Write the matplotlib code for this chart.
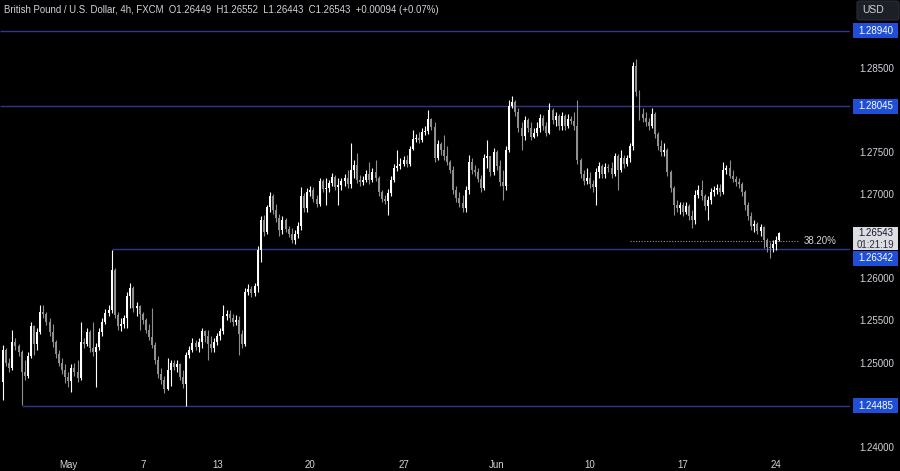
import matplotlib
matplotlib.use("Agg")
import matplotlib.pyplot as plt
import matplotlib.transforms as mtransforms
from matplotlib.patches import Rectangle, FancyBboxPatch
import numpy as np

# ---------------- data (GBP/USD, 4h candles) ----------------
open0 = 1.2477
close = [
    1.2515, 1.2500, 1.2493, 1.2524, 1.2520, 1.2512, 1.2489, 1.2484, 1.2508, 1.2543,
    1.2522, 1.2536, 1.2560, 1.2558, 1.2548, 1.2536, 1.2524, 1.2510, 1.2500, 1.2491,
    1.2483, 1.2478, 1.2493, 1.2489, 1.2482, 1.2524, 1.2522, 1.2536, 1.2517, 1.2512,
    1.2518, 1.2536, 1.2548, 1.2559, 1.2562, 1.2610, 1.2556, 1.2543, 1.2546, 1.2553,
    1.2579, 1.2588, 1.2565, 1.2567, 1.2558, 1.2550, 1.2539, 1.2530, 1.2521, 1.2503,
    1.2486, 1.2479, 1.2468, 1.2491, 1.2499, 1.2495, 1.2498, 1.2483, 1.2474, 1.2509,
    1.2515, 1.2523, 1.2518, 1.2524, 1.2537, 1.2532, 1.2522, 1.2517, 1.2524, 1.2532,
    1.2537, 1.2555, 1.2558, 1.2553, 1.2548, 1.2550, 1.2534, 1.2522, 1.2584, 1.2587,
    1.2583, 1.2591, 1.2634, 1.2669, 1.2655, 1.2685, 1.2698, 1.2681, 1.2672, 1.2657,
    1.2669, 1.2659, 1.2653, 1.2645, 1.2653, 1.2662, 1.2698, 1.2683, 1.2702, 1.2705,
    1.2694, 1.2688, 1.2716, 1.2706, 1.2707, 1.2713, 1.2720, 1.2708, 1.2711, 1.2716,
    1.2719, 1.2712, 1.2729, 1.2734, 1.2717, 1.2714, 1.2717, 1.2724, 1.2717, 1.2726,
    1.2719, 1.2702, 1.2694, 1.2692, 1.2701, 1.2717, 1.2731, 1.2733, 1.2736, 1.2740,
    1.2736, 1.2754, 1.2765, 1.2767, 1.2764, 1.2774, 1.2775, 1.2789, 1.2780, 1.2743,
    1.2759, 1.2752, 1.2745, 1.2738, 1.2729, 1.2705, 1.2695, 1.2689, 1.2683, 1.2705,
    1.2738, 1.2729, 1.2726, 1.2718, 1.2707, 1.2743, 1.2745, 1.2726, 1.2750, 1.2733,
    1.2714, 1.2710, 1.2752, 1.2805, 1.2809, 1.2797, 1.2778, 1.2769, 1.2788, 1.2778,
    1.2768, 1.2772, 1.2778, 1.2790, 1.2781, 1.2772, 1.2800, 1.2788, 1.2793, 1.2781,
    1.2793, 1.2781, 1.2789, 1.2787, 1.2781, 1.2740, 1.2724, 1.2716, 1.2719, 1.2712,
    1.2708, 1.2726, 1.2733, 1.2724, 1.2732, 1.2731, 1.2724, 1.2745, 1.2729, 1.2743,
    1.2736, 1.2743, 1.2757, 1.2852, 1.2821, 1.2795, 1.2790, 1.2786, 1.2781, 1.2795,
    1.2771, 1.2757, 1.2750, 1.2752, 1.2726, 1.2707, 1.2687, 1.2683, 1.2687, 1.2679,
    1.2686, 1.2674, 1.2669, 1.2699, 1.2705, 1.2698, 1.2686, 1.2693, 1.2702, 1.2705,
    1.2707, 1.2702, 1.2729, 1.2731, 1.2722, 1.2718, 1.2714, 1.2712, 1.2702, 1.2687,
    1.2674, 1.2662, 1.2665, 1.2656, 1.2661, 1.2645, 1.2637, 1.2636, 1.2641, 1.26449,
    1.26543,
]
high = [
    1.2521, 1.2517, 1.2505, 1.2539, 1.2529, 1.2522, 1.2515, 1.2503, 1.2512, 1.2548,
    1.2545, 1.2541, 1.2568, 1.2568, 1.2560, 1.2553, 1.2546, 1.2527, 1.2515, 1.2505,
    1.2498, 1.2489, 1.2498, 1.2500, 1.2503, 1.2548, 1.2529, 1.2541, 1.2539, 1.2548,
    1.2523, 1.2541, 1.2553, 1.2564, 1.2568, 1.2634, 1.2612, 1.2560, 1.2553, 1.2556,
    1.2584, 1.2594, 1.2591, 1.2572, 1.2568, 1.2560, 1.2553, 1.2546, 1.2565, 1.2524,
    1.2508, 1.2493, 1.2484, 1.2505, 1.2503, 1.2503, 1.2503, 1.2500, 1.2491, 1.2512,
    1.2520, 1.2529, 1.2527, 1.2529, 1.2541, 1.2539, 1.2539, 1.2532, 1.2529, 1.2535,
    1.2541, 1.2568, 1.2562, 1.2562, 1.2558, 1.2556, 1.2555, 1.2539, 1.2588, 1.2593,
    1.2591, 1.2594, 1.2638, 1.2674, 1.2675, 1.2687, 1.2702, 1.2700, 1.2688, 1.2676,
    1.2674, 1.2672, 1.2662, 1.2660, 1.2657, 1.2667, 1.2708, 1.2701, 1.2707, 1.2710,
    1.2708, 1.2699, 1.2719, 1.2718, 1.2719, 1.2717, 1.2725, 1.2723, 1.2719, 1.2719,
    1.2724, 1.2729, 1.2761, 1.2740, 1.2749, 1.2723, 1.2721, 1.2729, 1.2738, 1.2731,
    1.2740, 1.2721, 1.2705, 1.2699, 1.2706, 1.2721, 1.2736, 1.2752, 1.2743, 1.2745,
    1.2746, 1.2757, 1.2776, 1.2771, 1.2774, 1.2778, 1.2781, 1.2800, 1.2790, 1.2786,
    1.2764, 1.2762, 1.2770, 1.2757, 1.2740, 1.2733, 1.2710, 1.2702, 1.2699, 1.2710,
    1.2746, 1.2743, 1.2734, 1.2731, 1.2723, 1.2748, 1.2764, 1.2745, 1.2755, 1.2752,
    1.2740, 1.2729, 1.2757, 1.2812, 1.2816, 1.2812, 1.2802, 1.2786, 1.2793, 1.2790,
    1.2786, 1.2778, 1.2786, 1.2795, 1.2794, 1.2786, 1.2808, 1.2802, 1.2797, 1.2795,
    1.2797, 1.2795, 1.2795, 1.2793, 1.2797, 1.2812, 1.2743, 1.2729, 1.2731, 1.2726,
    1.2717, 1.2731, 1.2738, 1.2736, 1.2737, 1.2736, 1.2738, 1.2749, 1.2748, 1.2752,
    1.2746, 1.2746, 1.2761, 1.2857, 1.2860, 1.2824, 1.2802, 1.2797, 1.2790, 1.2802,
    1.2797, 1.2774, 1.2764, 1.2761, 1.2755, 1.2729, 1.2710, 1.2693, 1.2691, 1.2691,
    1.2691, 1.2688, 1.2681, 1.2705, 1.2711, 1.2717, 1.2700, 1.2698, 1.2707, 1.2710,
    1.2712, 1.2712, 1.2738, 1.2734, 1.2740, 1.2729, 1.2721, 1.2719, 1.2714, 1.2705,
    1.2691, 1.2679, 1.2669, 1.2667, 1.2665, 1.2662, 1.2648, 1.2643, 1.2645, 1.2650,
    1.26552,
]
low = [
    1.2455, 1.2496, 1.2489, 1.2491, 1.2515, 1.2508, 1.2449, 1.2479, 1.2482, 1.2505,
    1.2509, 1.2515, 1.2534, 1.2553, 1.2545, 1.2532, 1.2518, 1.2505, 1.2496, 1.2486,
    1.2476, 1.2471, 1.2465, 1.2484, 1.2477, 1.2479, 1.2517, 1.2520, 1.2512, 1.2508,
    1.2471, 1.2515, 1.2532, 1.2546, 1.2555, 1.2559, 1.2553, 1.2539, 1.2537, 1.2541,
    1.2541, 1.2565, 1.2560, 1.2555, 1.2539, 1.2546, 1.2535, 1.2527, 1.2517, 1.2498,
    1.2482, 1.2474, 1.2464, 1.2467, 1.2472, 1.2491, 1.2489, 1.2479, 1.2470, 1.24485,
    1.2505, 1.2512, 1.2515, 1.2512, 1.2517, 1.2524, 1.2503, 1.2512, 1.2512, 1.2521,
    1.2527, 1.2534, 1.2550, 1.2548, 1.2543, 1.2545, 1.2509, 1.2517, 1.2520, 1.2580,
    1.2578, 1.2579, 1.2584, 1.2619, 1.2650, 1.2653, 1.2679, 1.2676, 1.2667, 1.2650,
    1.2653, 1.2655, 1.2649, 1.2642, 1.2641, 1.2648, 1.2657, 1.2679, 1.2679, 1.2698,
    1.2691, 1.2685, 1.2686, 1.2702, 1.2687, 1.2702, 1.2710, 1.2705, 1.2687, 1.2705,
    1.2710, 1.2707, 1.2707, 1.2719, 1.2713, 1.2710, 1.2711, 1.2714, 1.2712, 1.2714,
    1.2716, 1.2698, 1.2691, 1.2688, 1.2675, 1.2698, 1.2714, 1.2727, 1.2730, 1.2733,
    1.2732, 1.2733, 1.2752, 1.2762, 1.2761, 1.2762, 1.2770, 1.2771, 1.2776, 1.2738,
    1.2740, 1.2746, 1.2740, 1.2734, 1.2725, 1.2700, 1.2691, 1.2685, 1.2679, 1.2679,
    1.2700, 1.2724, 1.2721, 1.2714, 1.2702, 1.2705, 1.2731, 1.2721, 1.2723, 1.2729,
    1.2710, 1.2693, 1.2705, 1.2750, 1.2802, 1.2793, 1.2774, 1.2752, 1.2764, 1.2774,
    1.2764, 1.2767, 1.2769, 1.2774, 1.2776, 1.2769, 1.2771, 1.2783, 1.2781, 1.2776,
    1.2776, 1.2776, 1.2778, 1.2783, 1.2776, 1.2736, 1.2719, 1.2711, 1.2712, 1.2707,
    1.2702, 1.2687, 1.2719, 1.2719, 1.2719, 1.2726, 1.2719, 1.2721, 1.2705, 1.2726,
    1.2731, 1.2733, 1.2738, 1.2752, 1.2816, 1.2788, 1.2786, 1.2781, 1.2776, 1.2778,
    1.2767, 1.2752, 1.2745, 1.2745, 1.2721, 1.2702, 1.2675, 1.2679, 1.2676, 1.2674,
    1.2676, 1.2669, 1.2660, 1.2664, 1.2695, 1.2693, 1.2681, 1.2669, 1.2688, 1.2698,
    1.2700, 1.2698, 1.2700, 1.2724, 1.2719, 1.2714, 1.2710, 1.2707, 1.2698, 1.2681,
    1.2669, 1.2657, 1.2655, 1.2653, 1.2650, 1.2636, 1.2631, 1.2624, 1.2631, 1.2634,
    1.26443,
]

tick_idx = [21, 45, 69, 99, 129, 159, 189, 219, 249]
tick_labels = ["May", "7", "13", "20", "27", "Jun", "10", "17", "24"]
price_ticks = [1.24000, 1.25000, 1.25500, 1.26000, 1.27000, 1.27500, 1.28500]

level_values = [1.28940, 1.28045, 1.26342, 1.24485]
level_start = [-1, -1, 35, 6]          # candle index where each horizontal ray starts
fib_value = 1.26447
fib_label = "38.20%"
fib_start, fib_end = 202, 256
countdown = "01:21:19"

# ---------------- styling ----------------
plt.rcParams["font.family"] = ["Liberation Sans", "DejaVu Sans"]
BG = "#000000"
UP = "#ffffff"
DOWN = "#8f8f8f"
LEVEL = "#30368f"
TXT = "#d1d4dc"
BLUE = "#1f4fd6"

W, H = 900, 471
fig = plt.figure(figsize=(W / 100, H / 100), dpi=100, facecolor=BG)
ax = fig.add_axes([0, 18 / H, 850 / W, 453 / H])
ax.set_facecolor(BG)

o = np.array([open0] + close[:-1])
c = np.array(close)
hi = np.array(high)
lo = np.array(low)
x = np.arange(len(c))
up = c >= o
cols = np.where(up, UP, DOWN)

ax.vlines(x, lo, hi, colors=cols, linewidth=0.8, zorder=3)
ax.bar(x, np.maximum(np.abs(c - o), 0.00004), bottom=np.minimum(o, c),
       width=0.64, color=cols, linewidth=0, zorder=4)

xmin, xmax = -0.97, 272.8
ymin, ymax = 1.23926, 1.29304
ax.set_xlim(xmin, xmax)
ax.set_ylim(ymin, ymax)

for v, s in zip(level_values, level_start):
    ax.hlines(v, max(s, xmin), xmax, color=LEVEL, linewidth=1.0, zorder=2)

ax.hlines(fib_value, fib_start, fib_end, color="#9598a1", linewidth=0.8,
          linestyles=(0, (1, 1.5)), zorder=2)
ax.text(fib_end + 2, fib_value, fib_label, color=TXT, fontsize=7, va="center", ha="left")

for s in ax.spines.values():
    s.set_visible(False)

ax.set_xticks(tick_idx)
ax.set_xticklabels(tick_labels)
ax.tick_params(axis="x", length=0, pad=5, labelsize=7, colors=TXT)

ax.yaxis.tick_right()
ax.set_yticks(price_ticks)
ax.set_yticklabels([f"{p:.5f}" for p in price_ticks])
ax.tick_params(axis="y", length=0, pad=7, labelsize=7, colors=TXT)

# right-axis label boxes
blend = mtransforms.blended_transform_factory(fig.transFigure, ax.transData)
ppx = (ymax - ymin) / 453.0          # price per pixel
bh = 15 * ppx
last = c[-1]
box_top = last + 6 * ppx
box_bot = box_top - 23 * ppx
for v in level_values:
    yc = v
    # push a label below the last-price box when they would collide
    if box_bot - bh / 2 < yc < box_top + bh / 2:
        yc = box_bot - bh / 2 - ppx
    ax.add_patch(Rectangle((853 / W, yc - bh / 2), 45 / W, bh, transform=blend,
                           facecolor=BLUE, edgecolor="none", clip_on=False, zorder=5))
    ax.text(875.5 / W, yc, f"{v:.5f}", transform=blend, color="white", fontsize=7,
            ha="center", va="center", clip_on=False, zorder=6)

ax.add_patch(Rectangle((853 / W, box_bot), 45 / W, box_top - box_bot, transform=blend,
                       facecolor="#dcdde2", edgecolor="none", clip_on=False, zorder=5))
ax.text(875.5 / W, last, f"{last:.5f}", transform=blend, color="#131722", fontsize=7,
        ha="center", va="center", clip_on=False, zorder=6)
ax.text(875.5 / W, last - 12 * ppx, countdown, transform=blend, color="#2a2e39", fontsize=7,
        ha="center", va="center", clip_on=False, zorder=6)

# USD button
fig.patches.append(FancyBboxPatch((857 / W, (H - 20) / H), 42 / W, 19 / H,
                                  boxstyle="round,pad=0,rounding_size=0.004",
                                  transform=fig.transFigure, facecolor="#1c1f26",
                                  edgecolor="#2a2e39", linewidth=0.8))
fig.text(862 / W, 1 - 10 / H, "USD", color=TXT, fontsize=7.5, va="center", ha="left")

# title / legend line
chg = c[-1] - c[-2]
title = (f"British Pound / U.S. Dollar, 4h, FXCM  O{o[-1]:.5f}  H{hi[-1]:.5f}  "
         f"L{lo[-1]:.5f}  C{c[-1]:.5f}  {chg:+.5f} ({chg / c[-2] * 100:+.2f}%)")
fig.text(4 / W, 1 - 10 / H, title, color=TXT, fontsize=6.9, va="center", ha="left")

fig.savefig("out.png", dpi=100, facecolor=BG)
